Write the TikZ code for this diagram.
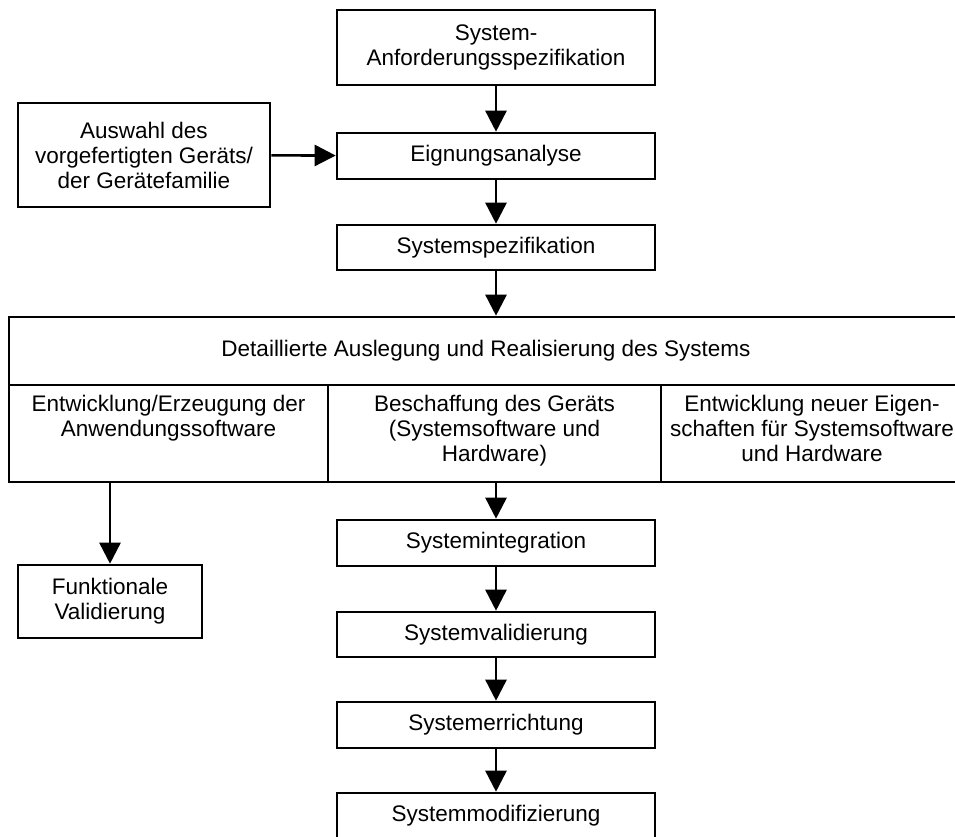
\documentclass[tikz,border=0pt]{standalone}
\usepackage{fontspec}
\setmainfont{Liberation Sans}
\usetikzlibrary{arrows.meta}

\tikzset{
 stepbox/.style={draw, line width=2.6pt, rectangle, align=center, inner sep=0pt},
 boxtext/.style={anchor=north, align=center, inner sep=0pt, yshift=-11pt},
 flow/.style={line width=2.6pt, -{Triangle[width=21pt, length=21pt]}}
}

\begin{document}
\begin{tikzpicture}[x=1pt, y=-1pt, font=\fontsize{22.5}{25}\selectfont]

\useasboundingbox (0,0) rectangle (955,836);
\clip (0,0) rectangle (955,836);

% main column
\node[stepbox, minimum width=318pt, minimum height=75pt] (anforderung) at (496,47.5)
 {System-\\Anforderungsspezifikation};
\node[stepbox, minimum width=318pt, minimum height=46pt] (eignung) at (496,156)
 {Eignungsanalyse};
\node[stepbox, minimum width=318pt, minimum height=45pt] (spezifikation) at (496,247.5)
 {Systemspezifikation};

% side input
\node[stepbox, minimum width=252pt, minimum height=104pt] (auswahl) at (144,155)
 {Auswahl des\\vorgefertigten Geräts/\\der Gerätefamilie};

% detailed design block
\node[stepbox, minimum width=954pt, minimum height=68pt] (auslegung) at (486,351)
 {Detaillierte Auslegung und Realisierung des Systems};
\node[stepbox, minimum width=319pt, minimum height=97pt] (anwendung) at (168.5,433.5) {};
\node[stepbox, minimum width=333pt, minimum height=97pt] (beschaffung) at (494.5,433.5) {};
\node[stepbox, minimum width=302pt, minimum height=97pt] (eigenschaften) at (812,433.5) {};
\node[boxtext] (anwendungtext) at (anwendung.north)
 {Entwicklung/Erzeugung der\\Anwendungssoftware};
\node[boxtext] (beschaffungtext) at (beschaffung.north)
 {Beschaffung des Geräts\\(Systemsoftware und\\Hardware)};
\node[boxtext] (eigenschaftentext) at (eigenschaften.north)
 {Entwicklung neuer Eigen-\\schaften für Systemsoftware\\und Hardware};

\node[stepbox, minimum width=184pt, minimum height=73pt] (funktional) at (110,601.5)
 {Funktionale\\Validierung};

% lower column
\node[stepbox, minimum width=318pt, minimum height=46pt] (integration) at (496,543)
 {Systemintegration};
\node[stepbox, minimum width=318pt, minimum height=45pt] (validierung) at (496,634.5)
 {Systemvalidierung};
\node[stepbox, minimum width=318pt, minimum height=46pt] (errichtung) at (496,725)
 {Systemerrichtung};
\node[stepbox, minimum width=318pt, minimum height=46pt] (modifizierung) at (496,816)
 {Systemmodifizierung};

% connectors
\draw[flow] (anforderung) -- (eignung);
\draw[flow] (eignung) -- (spezifikation);
\draw[flow] (auswahl) -- (eignung);
\draw[flow] (spezifikation.south) -- (spezifikation.south |- auslegung.north);
\draw[flow] (anwendung.south -| funktional.north) -- (funktional.north);
\draw[flow] (beschaffung.south -| integration.north) -- (integration.north);
\draw[flow] (integration) -- (validierung);
\draw[flow] (validierung) -- (errichtung);
\draw[flow] (errichtung) -- (modifizierung);

\end{tikzpicture}
\end{document}
